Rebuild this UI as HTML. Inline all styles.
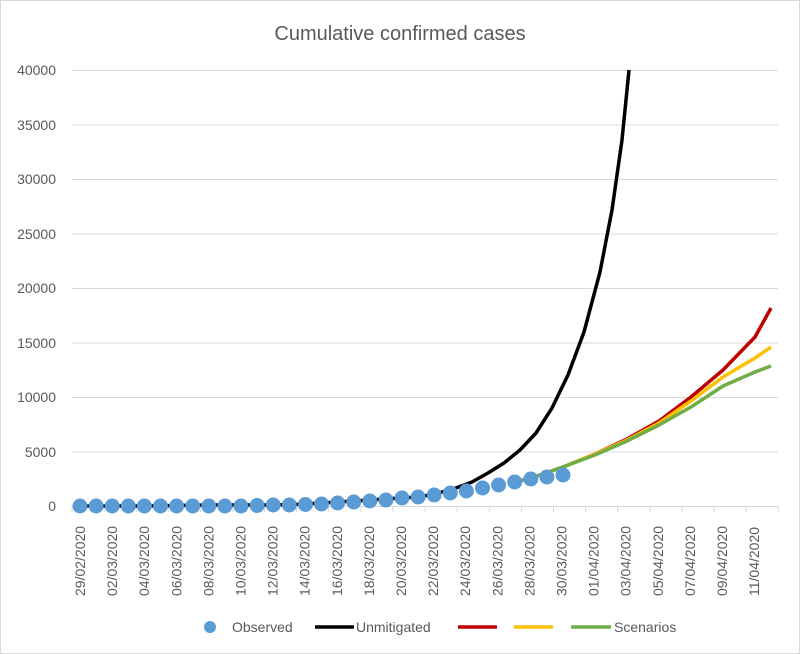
<!DOCTYPE html>
<html><head><meta charset="utf-8"><style>
html,body{margin:0;padding:0;background:#fff}
svg{display:block;font-family:"Liberation Sans",Calibri,sans-serif}
</style></head><body>
<svg width="800" height="654" viewBox="0 0 800 654">
<rect x="0.5" y="0.5" width="799" height="653" fill="#fff" stroke="#d9d9d9"/>
<text x="400" y="40" font-size="20" fill="#595959" text-anchor="middle">Cumulative confirmed cases</text>
<g stroke="#d9d9d9" stroke-width="1">
<line x1="72" x2="778" y1="70.5" y2="70.5"/><line x1="72" x2="778" y1="125" y2="125"/>
<line x1="72" x2="778" y1="179.5" y2="179.5"/><line x1="72" x2="778" y1="234" y2="234"/>
<line x1="72" x2="778" y1="288.5" y2="288.5"/><line x1="72" x2="778" y1="343" y2="343"/>
<line x1="72" x2="778" y1="397.5" y2="397.5"/><line x1="72" x2="778" y1="452" y2="452"/>
<line x1="72" x2="778" y1="506.5" y2="506.5"/>
</g>
<g font-size="14" fill="#595959" text-anchor="end">
<text x="56" y="75">40000</text><text x="56" y="130">35000</text><text x="56" y="184">30000</text>
<text x="56" y="239">25000</text><text x="56" y="293">20000</text><text x="56" y="348">15000</text>
<text x="56" y="402">10000</text><text x="56" y="457">5000</text><text x="56" y="511">0</text>
</g>
<path stroke="#d9d9d9" fill="none" d="M72,506v6M104.1,506v6M136.2,506v6M168.3,506v6M200.4,506v6M232.5,506v6M264.6,506v6M296.7,506v6M328.8,506v6M360.9,506v6M393,506v6M425.1,506v6M457.2,506v6M489.3,506v6M521.4,506v6M553.5,506v6M585.6,506v6M617.7,506v6M649.8,506v6M681.9,506v6M714,506v6M746.1,506v6M778.2,506v6"/>
<g font-size="14" fill="#595959">
<text transform="translate(85,596) rotate(-90)">29/02/2020</text>
<text transform="translate(117.1,596) rotate(-90)">02/03/2020</text>
<text transform="translate(149.2,596) rotate(-90)">04/03/2020</text>
<text transform="translate(181.3,596) rotate(-90)">06/03/2020</text>
<text transform="translate(213.4,596) rotate(-90)">08/03/2020</text>
<text transform="translate(245.5,596) rotate(-90)">10/03/2020</text>
<text transform="translate(277.6,596) rotate(-90)">12/03/2020</text>
<text transform="translate(309.7,596) rotate(-90)">14/03/2020</text>
<text transform="translate(341.8,596) rotate(-90)">16/03/2020</text>
<text transform="translate(373.9,596) rotate(-90)">18/03/2020</text>
<text transform="translate(406,596) rotate(-90)">20/03/2020</text>
<text transform="translate(438.1,596) rotate(-90)">22/03/2020</text>
<text transform="translate(470.2,596) rotate(-90)">24/03/2020</text>
<text transform="translate(502.3,596) rotate(-90)">26/03/2020</text>
<text transform="translate(534.4,596) rotate(-90)">28/03/2020</text>
<text transform="translate(566.5,596) rotate(-90)">30/03/2020</text>
<text transform="translate(598.6,596) rotate(-90)">01/04/2020</text>
<text transform="translate(630.7,596) rotate(-90)">03/04/2020</text>
<text transform="translate(662.8,596) rotate(-90)">05/04/2020</text>
<text transform="translate(694.9,596) rotate(-90)">07/04/2020</text>
<text transform="translate(727,596) rotate(-90)">09/04/2020</text>
<text transform="translate(759.1,596) rotate(-90)">11/04/2020</text>
</g>
<g fill="none" stroke-width="3.5" stroke-linejoin="round">
<polyline stroke="#000" points="80,506 145,506 209,505 273,505 305,504 338,502 370,500 402,498 418,497 435,494 456,488 472,482 488,473 504,463 520,450 536,433 552,408 568,375 584,332 600,272 612,210 622,140 629,70"/>
<polyline stroke="#c00000" points="515,482 531,478 563,467 595,454 627,439 659,421 691,397 723,370 755,337 771,308"/>
<polyline stroke="#ffc000" points="515,482 531,478 563,467 595,454 627,440 659,423 691,401 723,377 755,358 771,347"/>
<polyline stroke="#70ad47" points="515,482 531,478 563,467 595,455 627,441 659,425 691,407 723,386 755,372 771,366"/>
</g>
<g fill="#5b9bd5">
<circle cx="80" cy="506" r="7.5"/><circle cx="96.1" cy="506" r="7.5"/><circle cx="112.2" cy="506" r="7.5"/><circle cx="128.3" cy="506" r="7.5"/><circle cx="144.4" cy="506" r="7.5"/><circle cx="160.5" cy="506" r="7.5"/><circle cx="176.6" cy="506" r="7.5"/><circle cx="192.7" cy="506" r="7.5"/><circle cx="208.8" cy="506" r="7.5"/><circle cx="224.9" cy="506" r="7.5"/><circle cx="241" cy="506" r="7.5"/><circle cx="257.1" cy="505.5" r="7.5"/><circle cx="273.2" cy="505" r="7.5"/><circle cx="289.3" cy="505" r="7.5"/><circle cx="305.4" cy="504.5" r="7.5"/><circle cx="321.5" cy="504" r="7.5"/><circle cx="337.6" cy="503" r="7.5"/><circle cx="353.7" cy="502" r="7.5"/><circle cx="369.8" cy="501" r="7.5"/><circle cx="385.9" cy="500" r="7.5"/><circle cx="402" cy="498" r="7.5"/><circle cx="418.1" cy="497" r="7.5"/><circle cx="434.2" cy="495" r="7.5"/><circle cx="450.3" cy="493" r="7.5"/><circle cx="466.4" cy="491" r="7.5"/><circle cx="482.5" cy="488" r="7.5"/><circle cx="498.6" cy="485" r="7.5"/><circle cx="514.7" cy="482" r="7.5"/><circle cx="530.8" cy="479" r="7.5"/><circle cx="546.9" cy="477" r="7.5"/><circle cx="563" cy="475" r="7.5"/>
</g>
<g font-size="14" fill="#595959">
<circle cx="210" cy="627" r="6" fill="#5b9bd5"/><text x="232" y="632">Observed</text>
<line x1="315" x2="354" y1="627" y2="627" stroke="#000" stroke-width="3.5"/><text x="356" y="632">Unmitigated</text>
<line x1="458" x2="497" y1="627" y2="627" stroke="#c00000" stroke-width="3.5"/>
<line x1="514" x2="553" y1="627" y2="627" stroke="#ffc000" stroke-width="3.5"/>
<line x1="571" x2="611" y1="627" y2="627" stroke="#70ad47" stroke-width="3.5"/><text x="614" y="632">Scenarios</text>
</g>
</svg>
</body></html>
